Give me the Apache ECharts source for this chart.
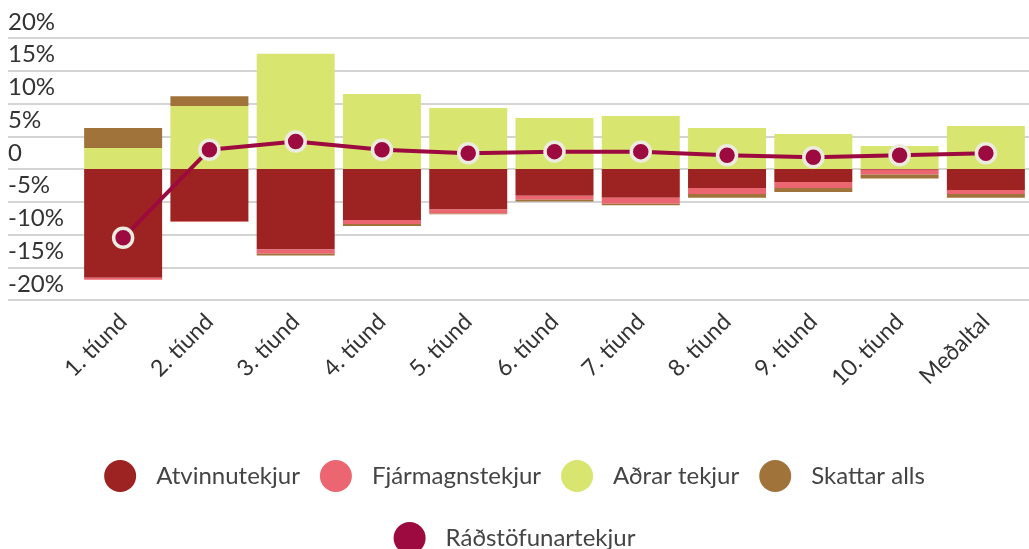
<!DOCTYPE html>
<html>
<head>
<meta charset="utf-8">
<script src="https://cdn.jsdelivr.net/npm/echarts@6/dist/echarts.min.js"></script>
<style>html,body{margin:0;padding:0;background:#fff;}#c{width:1029px;height:549px;}</style>
</head>
<body>
<div id="c"></div>
<script>
const categories = ['1. tíund','2. tíund','3. tíund','4. tíund','5. tíund','6. tíund','7. tíund','8. tíund','9. tíund','10. tíund','Meðaltal'];
const atvinnutekjur   = [-16.6, -8.0, -12.3, -7.8, -6.2, -4.1, -4.4, -2.9, -2.0, -0.1, -3.2];
const fjarmagnstekjur = [-0.3, -0.1, -0.65, -0.6, -0.6, -0.6, -0.9, -0.9, -0.9, -0.75, -0.6];
const adrarTekjur     = [3.2, 9.6, 17.6, 11.45, 9.3, 7.8, 8.1, 6.25, 5.35, 3.5, 6.55];
const skattarAlls     = [3.05, 1.5, -0.25, -0.3, -0.1, -0.25, -0.25, -0.6, -0.6, -0.6, -0.6];
const radstofunartekjur = [-10.5, 2.95, 4.2, 2.95, 2.4, 2.65, 2.65, 2.1, 1.8, 2.1, 2.4];
const yTicks = [-20, -15, -10, -5, 0, 5, 10, 15, 20];

const FONT = 'Lato';
const chart = echarts.init(document.getElementById('c'));
const barBase = {type:'bar', xAxisIndex:1, yAxisIndex:1, stack:'s', barWidth:78, barGap:'0%'};
chart.setOption({
  animation:false,
  textStyle:{fontFamily:FONT},
  grid:[
    {left:8, right:0, top:38, bottom:249},
    {left:80, right:0, top:38, bottom:249}
  ],
  xAxis:[
    {gridIndex:0, type:'value', show:false},
    {gridIndex:1, type:'category', data:categories,
     axisLine:{show:false}, axisTick:{show:false},
     axisLabel:{rotate:45, fontSize:23, color:'#333', margin:18, fontFamily:FONT, interval:0}}
  ],
  yAxis:[
    {gridIndex:0, type:'value', min:yTicks[0], max:yTicks[yTicks.length-1], interval:5,
     axisLine:{show:false}, axisTick:{show:false},
     splitLine:{lineStyle:{color:'#d4d4d4', width:2}},
     axisLabel:{inside:true, margin:0, align:'left', verticalAlign:'bottom', padding:[0,0,4,0],
       fontSize:24, color:'#333', fontFamily:FONT,
       formatter:v=> v===0 ? '0' : v+'%'}},
    {gridIndex:1, type:'value', min:yTicks[0], max:yTicks[yTicks.length-1], interval:5, show:false, splitLine:{show:false}}
  ],
  legend:[
    {data:['Atvinnutekjur','Fjármagnstekjur','Aðrar tekjur','Skattar alls'], left:'center', top:455,
     icon:'circle', itemWidth:32, itemHeight:32, itemGap:20,
     itemStyle:{borderWidth:0},
     textStyle:{fontSize:24, color:'#444', fontFamily:FONT, padding:[0,0,0,15]}},
    {data:['Ráðstöfunartekjur'], left:'center', top:517,
     icon:'circle', itemWidth:32, itemHeight:32,
     itemStyle:{borderWidth:0},
     textStyle:{fontSize:24, color:'#444', fontFamily:FONT, padding:[0,0,0,15]}}
  ],
  series:[
    Object.assign({name:'Atvinnutekjur', data:atvinnutekjur, itemStyle:{color:'#9c2321'}}, barBase),
    Object.assign({name:'Fjármagnstekjur', data:fjarmagnstekjur, itemStyle:{color:'#ec6672'}}, barBase),
    Object.assign({name:'Aðrar tekjur', data:adrarTekjur, itemStyle:{color:'#d8e66f'}}, barBase),
    Object.assign({name:'Skattar alls', data:skattarAlls, itemStyle:{color:'#a0733a'}}, barBase),
    {name:'Ráðstöfunartekjur', type:'line', xAxisIndex:1, yAxisIndex:1, data:radstofunartekjur, z:10,
     symbol:'circle', symbolSize:19, lineStyle:{color:'#9c0a3f', width:4},
     itemStyle:{color:'#9c0a3f', borderColor:'#ecebe0', borderWidth:3.5}}
  ]
});
</script>
</body>
</html>
